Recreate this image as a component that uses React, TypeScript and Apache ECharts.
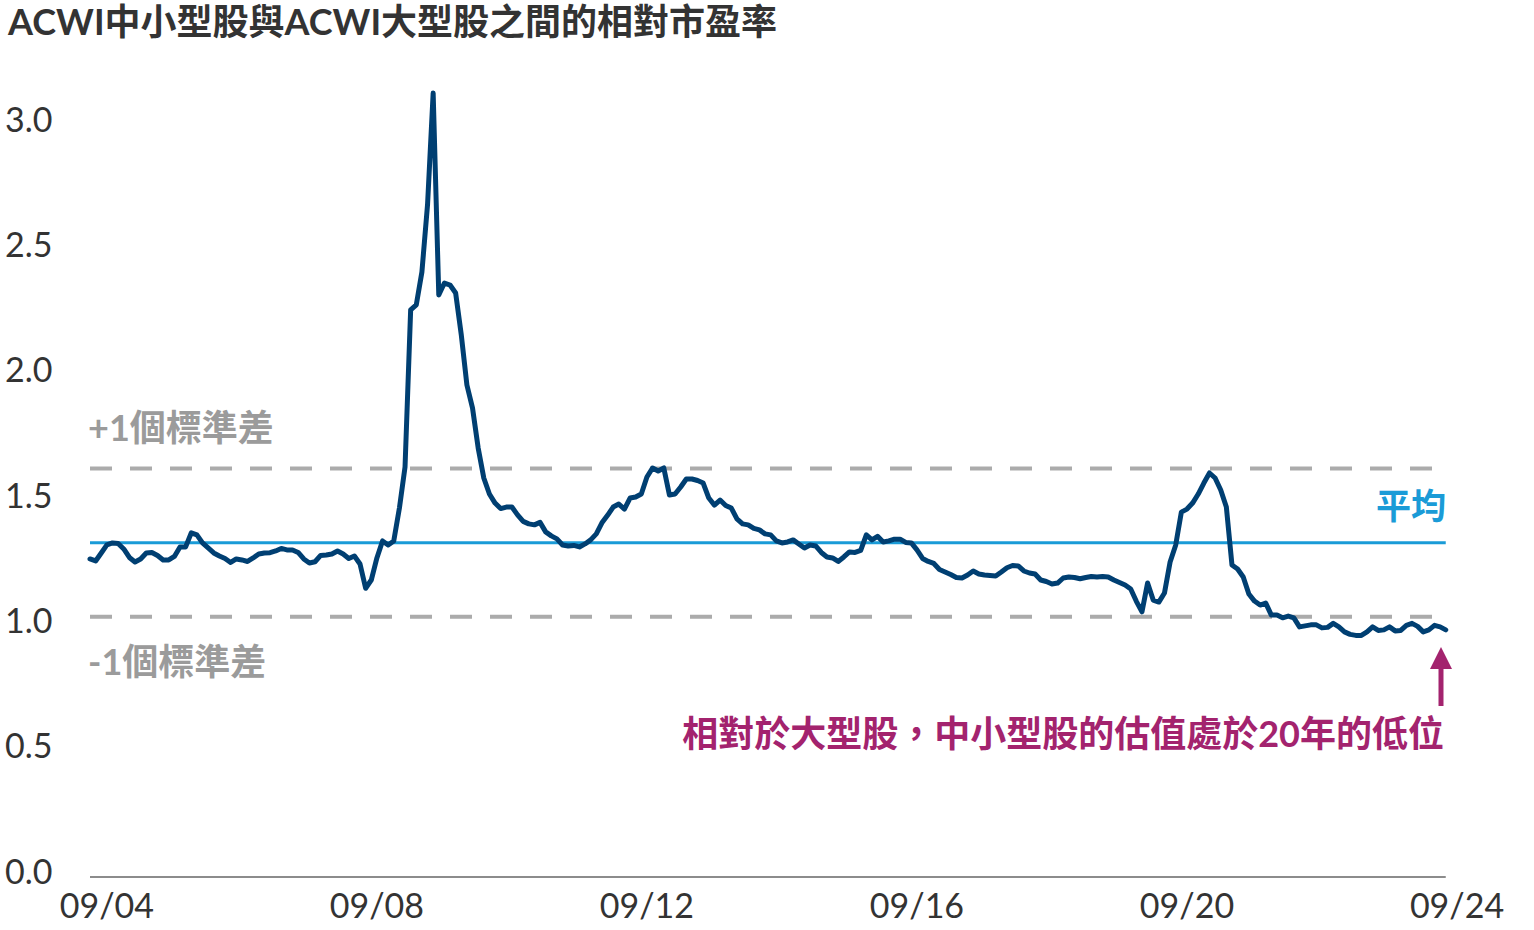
import React, { useEffect, useRef } from 'react';
import * as echarts from 'echarts';

const TITLE = 'ACWI中小型股與ACWI大型股之間的相對市盈率';
const START_YEAR = 2004;
const START_MONTH = 6; // first monthly observation: 06/2004

// Relative P/E: ACWI SMID cap vs ACWI large cap (monthly, 06/2004 - 07/2024)
const relativePE = [
  1.269, 1.261, 1.293, 1.325, 1.333, 1.331, 1.309, 1.275, 1.257, 1.269,
  1.293, 1.295, 1.283, 1.265, 1.265, 1.279, 1.317, 1.317, 1.373, 1.365,
  1.333, 1.313, 1.293, 1.281, 1.271, 1.255, 1.269, 1.265, 1.259, 1.273,
  1.289, 1.293, 1.294, 1.301, 1.311, 1.305, 1.305, 1.295, 1.269, 1.253,
  1.258, 1.283, 1.285, 1.289, 1.301, 1.289, 1.271, 1.281, 1.249, 1.152,
  1.185, 1.273, 1.341, 1.325, 1.341, 1.472, 1.636, 2.263, 2.283, 2.414,
  2.682, 3.128, 2.322, 2.370, 2.362, 2.330, 2.163, 1.963, 1.871, 1.712,
  1.592, 1.528, 1.492, 1.470, 1.476, 1.476, 1.445, 1.419, 1.409, 1.405,
  1.415, 1.377, 1.361, 1.349, 1.325, 1.321, 1.323, 1.317, 1.329, 1.345,
  1.369, 1.413, 1.443, 1.476, 1.488, 1.468, 1.512, 1.516, 1.528, 1.596,
  1.632, 1.620, 1.632, 1.524, 1.528, 1.556, 1.588, 1.588, 1.582, 1.572,
  1.512, 1.484, 1.504, 1.482, 1.472, 1.429, 1.409, 1.405, 1.391, 1.385,
  1.369, 1.365, 1.341, 1.333, 1.337, 1.345, 1.329, 1.313, 1.325, 1.321,
  1.295, 1.277, 1.273, 1.259, 1.277, 1.297, 1.295, 1.303, 1.365, 1.345,
  1.359, 1.337, 1.341, 1.348, 1.348, 1.335, 1.333, 1.305, 1.271, 1.259,
  1.251, 1.227, 1.217, 1.207, 1.195, 1.193, 1.205, 1.221, 1.209, 1.205,
  1.203, 1.201, 1.217, 1.234, 1.243, 1.241, 1.221, 1.213, 1.209, 1.185,
  1.179, 1.169, 1.173, 1.193, 1.197, 1.195, 1.190, 1.195, 1.199, 1.197,
  1.199, 1.197, 1.185, 1.175, 1.165, 1.149, 1.100, 1.058, 1.173, 1.105,
  1.097, 1.133, 1.257, 1.325, 1.456, 1.468, 1.492, 1.528, 1.572, 1.612,
  1.592, 1.544, 1.476, 1.245, 1.229, 1.197, 1.129, 1.101, 1.085, 1.093,
  1.045, 1.045, 1.034, 1.041, 1.034, 0.998, 1.002, 1.006, 1.006, 0.994,
  0.996, 1.012, 0.998, 0.978, 0.968, 0.964, 0.964, 0.978, 0.998, 0.984,
  0.986, 0.998, 0.982, 0.984, 1.004, 1.012, 1.000, 0.978, 0.986, 1.004,
  0.998, 0.986,
];

const MEAN = 1.334;
const PLUS_1SD = 1.630;
const MINUS_1SD = 1.038;

// x tick positions (month index from 06/2004) and their labels
const xTickIndex = [3, 51, 99, 147, 195, 243];
const xTickLabels = ['09/04', '09/08', '09/12', '09/16', '09/20', '09/24'];

const Y_MIN = 0;
const Y_MAX = 3.2;
const Y_INTERVAL = 0.5;

const LABEL_PLUS = '+1個標準差';
const LABEL_MINUS = '-1個標準差';
const LABEL_MEAN = '平均';
const ANNOTATION = '相對於大型股，中小型股的估值處於20年的低位';

const FONT = "Lato, 'Noto Sans CJK TC', 'Noto Sans', sans-serif";

export default function App() {
  const ref = useRef<HTMLDivElement>(null);

  useEffect(() => {
    document.body.style.margin = '0';
    if (!ref.current) return;
    const chart = echarts.init(ref.current, undefined, { renderer: 'svg' });
    const lastIdx = relativePE.length - 1;
    const monthLabel = (i: number) => {
      const m = START_MONTH - 1 + i;
      const y = START_YEAR + Math.floor(m / 12);
      const mm = (m % 12) + 1;
      return `${String(mm).padStart(2, '0')}/${String(y).slice(2)}`;
    };

    chart.setOption({
      animation: false,
      backgroundColor: '#ffffff',
      title: {
        text: TITLE,
        left: 3,
        top: -2,
        textStyle: { fontFamily: FONT, fontSize: 36, fontWeight: 'bold', color: '#333333' },
      },
      grid: { left: 90, right: 77, top: 75, bottom: 53 },
      xAxis: {
        type: 'value',
        min: 0,
        max: 243,
        axisLine: { show: false },
        axisTick: { show: false },
        splitLine: { show: false },
        axisLabel: {
          customValues: xTickIndex,
          formatter: (v: number) => {
            const k = xTickIndex.indexOf(v);
            return k >= 0 ? xTickLabels[k] : '';
          },
          margin: 10,
          fontFamily: FONT,
          fontSize: 34,
          color: '#333333',
        },
      },
      yAxis: {
        type: 'value',
        min: Y_MIN,
        max: Y_MAX,
        interval: Y_INTERVAL,
        axisLine: { show: false },
        axisTick: { show: false },
        splitLine: { show: false },
        axisLabel: {
          showMaxLabel: false,
          formatter: (v: number) => v.toFixed(1),
          align: 'left',
          verticalAlign: 'bottom',
          lineHeight: 14,
          margin: 85,
          fontFamily: FONT,
          fontSize: 34,
          color: '#333333',
        },
      },
      series: [
        {
          name: 'baseline',
          type: 'line',
          data: [[0, 0], [lastIdx, 0]],
          symbol: 'none',
          clip: false,
          silent: true,
          z: 1,
          lineStyle: { color: '#8c8c8c', width: 2 },
        },
        {
          name: LABEL_PLUS,
          type: 'line',
          data: [[0, PLUS_1SD], [lastIdx, PLUS_1SD]],
          symbol: 'none',
          silent: true,
          z: 2,
          lineStyle: { color: '#ababab', width: 4, type: [22, 18] },
        },
        {
          name: LABEL_MINUS,
          type: 'line',
          data: [[0, MINUS_1SD], [lastIdx, MINUS_1SD]],
          symbol: 'none',
          silent: true,
          z: 2,
          lineStyle: { color: '#ababab', width: 4, type: [22, 18] },
        },
        {
          name: LABEL_MEAN,
          type: 'line',
          data: [[0, MEAN], [lastIdx, MEAN]],
          symbol: 'none',
          silent: true,
          z: 3,
          lineStyle: { color: '#1a9bd7', width: 3 },
        },
        {
          name: 'relative PE',
          type: 'line',
          data: relativePE.map((v, i) => ({ value: [i, v], name: monthLabel(i) })),
          symbol: 'none',
          z: 5,
          lineStyle: { color: '#003f72', width: 5, join: 'round', cap: 'round' },
        },
      ],
      graphic: [
        {
          type: 'text',
          x: 88,
          y: 427,
          style: { text: LABEL_PLUS, fill: '#9b9b9b', font: `bold 36px ${FONT}`, verticalAlign: 'middle' },
        },
        {
          type: 'text',
          x: 88,
          y: 661,
          style: { text: LABEL_MINUS, fill: '#9b9b9b', font: `bold 36px ${FONT}`, verticalAlign: 'middle' },
        },
        {
          type: 'text',
          x: 1446,
          y: 505,
          style: { text: LABEL_MEAN, fill: '#1a9bd7', font: `bold 35px ${FONT}`, align: 'right', verticalAlign: 'middle' },
        },
        {
          type: 'text',
          x: 1444,
          y: 733,
          style: { text: ANNOTATION, fill: '#a3236e', font: `bold 36px ${FONT}`, align: 'right', verticalAlign: 'middle' },
        },
        {
          type: 'line',
          shape: { x1: 1441, y1: 706, x2: 1441, y2: 664 },
          style: { stroke: '#a3236e', lineWidth: 5 },
        },
        {
          type: 'polygon',
          shape: { points: [[1430, 669], [1452, 669], [1441, 647]] },
          style: { fill: '#a3236e' },
        },
      ],
    });

    return () => chart.dispose();
  }, []);

  return <div ref={ref} style={{ width: 1534, height: 930 }} />;
}
